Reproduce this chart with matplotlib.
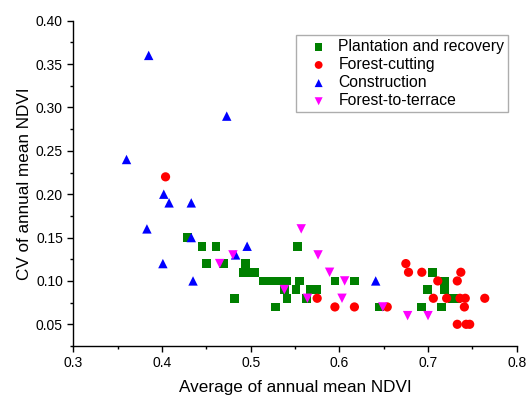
import matplotlib
matplotlib.use("Agg")
import matplotlib.pyplot as plt
from matplotlib.ticker import MultipleLocator

plt.rcParams["font.family"] = ["Liberation Sans", "DejaVu Sans"]

# Plantation and recovery
plant_x = [0.429, 0.445, 0.461, 0.553, 0.450, 0.469, 0.494, 0.492, 0.498, 0.504,
           0.514, 0.521, 0.528, 0.535, 0.541, 0.555, 0.595, 0.617, 0.719,
           0.538, 0.551, 0.567, 0.574, 0.699, 0.719,
           0.482, 0.541, 0.563, 0.727, 0.732,
           0.528, 0.645, 0.693, 0.715, 0.705]
plant_y = [0.15, 0.14, 0.14, 0.14, 0.12, 0.12, 0.12, 0.11, 0.11, 0.11,
           0.10, 0.10, 0.10, 0.10, 0.10, 0.10, 0.10, 0.10, 0.10,
           0.09, 0.09, 0.09, 0.09, 0.09, 0.09,
           0.08, 0.08, 0.08, 0.08, 0.08,
           0.07, 0.07, 0.07, 0.07, 0.11]

# Forest-cutting
cut_x = [0.404, 0.675, 0.678, 0.693, 0.737, 0.711, 0.733, 0.575, 0.706, 0.721,
         0.736, 0.742, 0.764, 0.595, 0.617, 0.654, 0.741, 0.733, 0.743, 0.747]
cut_y = [0.22, 0.12, 0.11, 0.11, 0.11, 0.10, 0.10, 0.08, 0.08, 0.08,
         0.08, 0.08, 0.08, 0.07, 0.07, 0.07, 0.07, 0.05, 0.05, 0.05]

# Construction
cons_x = [0.385, 0.473, 0.360, 0.402, 0.408, 0.433, 0.383, 0.433, 0.496, 0.401,
          0.483, 0.435, 0.641]
cons_y = [0.36, 0.29, 0.24, 0.20, 0.19, 0.19, 0.16, 0.15, 0.14, 0.12,
          0.13, 0.10, 0.10]

# Forest-to-terrace
terr_x = [0.557, 0.480, 0.465, 0.576, 0.589, 0.606, 0.538, 0.564, 0.603, 0.649,
          0.677, 0.700]
terr_y = [0.16, 0.13, 0.12, 0.13, 0.11, 0.10, 0.09, 0.08, 0.08, 0.07,
          0.06, 0.06]

x_ticks = [0.3, 0.4, 0.5, 0.6, 0.7, 0.8]
y_ticks = [0.05, 0.10, 0.15, 0.20, 0.25, 0.30, 0.35, 0.40]

fig = plt.figure(figsize=(5.26, 3.96), dpi=100)
ax = fig.add_axes([0.1394, 0.1263, 0.8429, 0.8214])

ax.scatter(plant_x, plant_y, marker="s", s=40, color="#008000", edgecolors="none",
           label="Plantation and recovery")
ax.scatter(cut_x, cut_y, marker="o", s=44, color="#ff0000", edgecolors="none",
           label="Forest-cutting")
ax.scatter(cons_x, cons_y, marker="^", s=46, color="#0000ff", edgecolors="none",
           label="Construction")
ax.scatter(terr_x, terr_y, marker="v", s=46, color="#ff00ff", edgecolors="none",
           label="Forest-to-terrace")

ax.set_xticks(x_ticks)
ax.set_xticklabels(["%.1f" % v for v in x_ticks])
ax.set_yticks(y_ticks)
ax.set_yticklabels(["%.2f" % v for v in y_ticks])
ax.xaxis.set_minor_locator(MultipleLocator(0.05))
ax.yaxis.set_minor_locator(MultipleLocator(0.025))
ax.set_xlim(0.3, 0.8)
ax.set_ylim(0.025, 0.40)

ax.spines["top"].set_visible(False)
ax.spines["right"].set_visible(False)
for sp in ["left", "bottom"]:
    ax.spines[sp].set_linewidth(1.0)
ax.tick_params(which="major", direction="out", length=4.5, width=1, labelsize=10, pad=3)
ax.tick_params(which="minor", direction="out", length=2.2, width=1)

ax.set_xlabel("Average of annual mean NDVI", fontsize=12.3, labelpad=7)
ax.set_ylabel("CV of annual mean NDVI", fontsize=12.3, labelpad=3)

leg = ax.legend(loc="upper left", bbox_to_anchor=(0.502, 0.956), borderaxespad=0,
                fontsize=11.3, frameon=True, fancybox=False, edgecolor="#999999",
                borderpad=0.25, labelspacing=0.2, handletextpad=0.05,
                handlelength=2.4, scatterpoints=1, markerscale=0.85)
leg.get_frame().set_linewidth(1.0)

fig.savefig("out.png", dpi=100)
